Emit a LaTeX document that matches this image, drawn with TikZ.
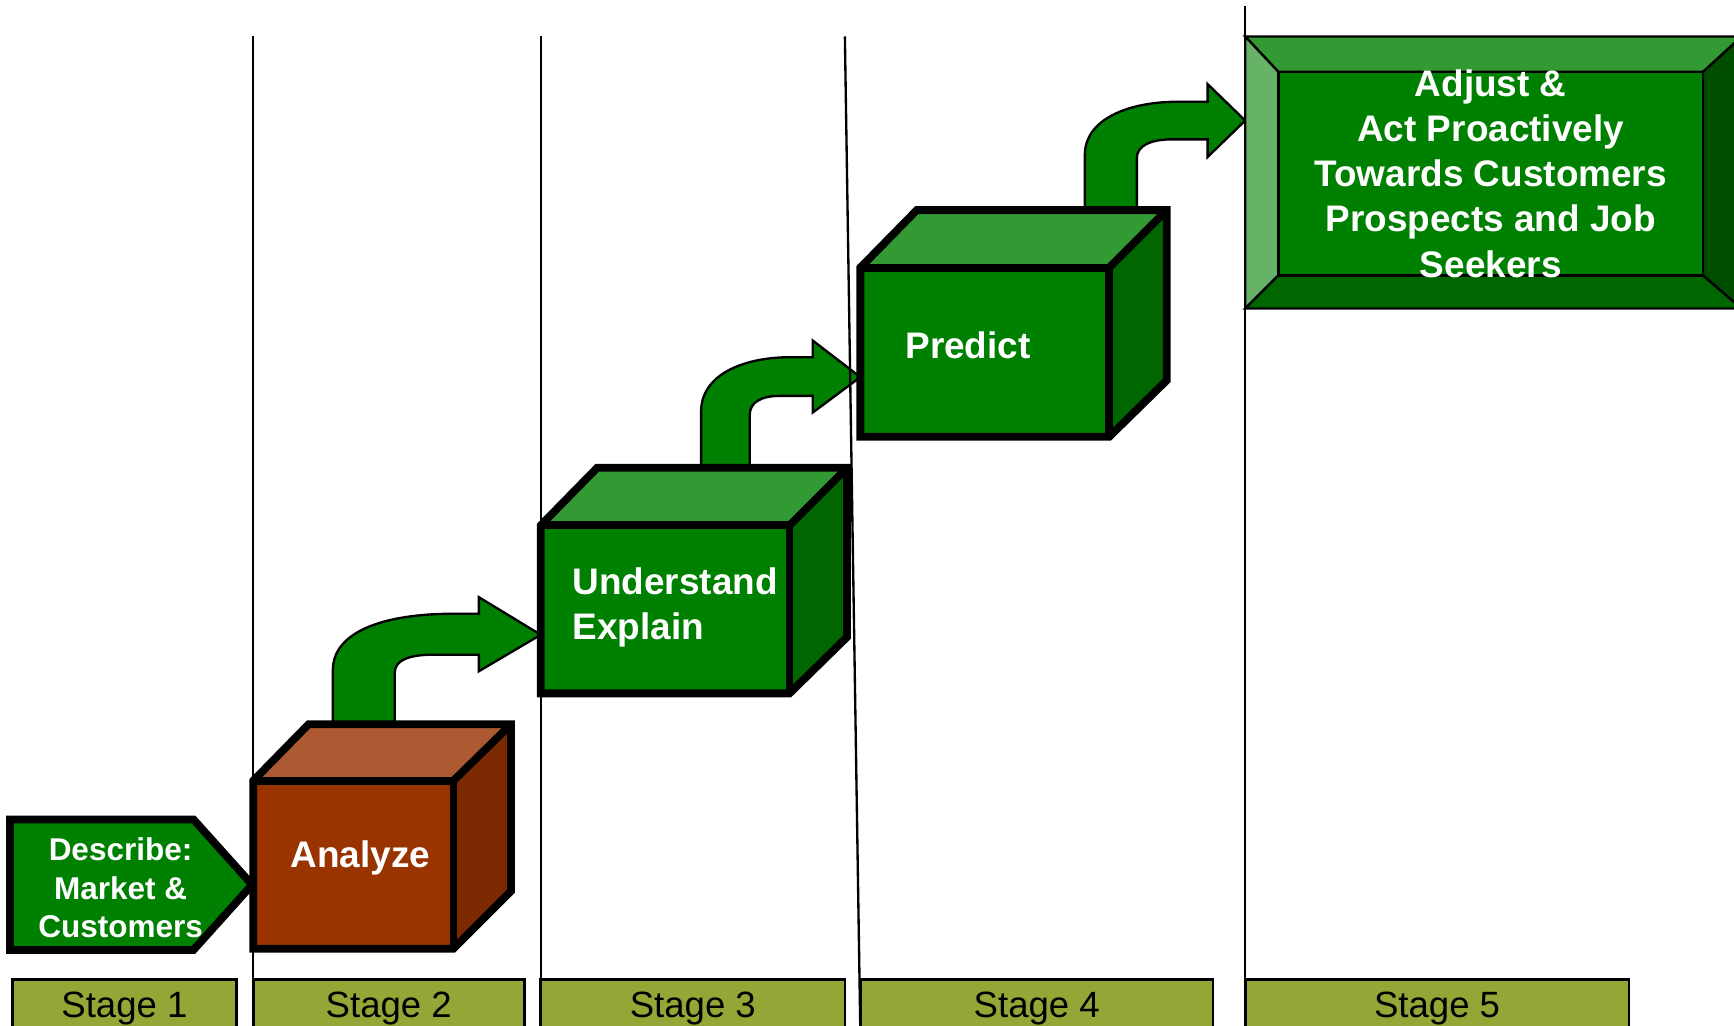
\documentclass[tikz,border=0pt]{standalone}
\usepackage{fontspec}
\setmainfont{Liberation Sans}

\definecolor{boxgreen}{HTML}{008000}
\definecolor{topgreen}{HTML}{339933}
\definecolor{sidegreen}{HTML}{006600}
\definecolor{lightbevel}{HTML}{66B266}
\definecolor{darkbevel}{HTML}{004D00}
\definecolor{boxbrown}{HTML}{993300}
\definecolor{topbrown}{HTML}{AD5A33}
\definecolor{sidebrown}{HTML}{7A2900}
\definecolor{stageolive}{HTML}{93A636}

\tikzset{
  cubeedge/.style={draw=black, line width=2pt, line join=miter},
  bendarrow/.style={draw=black, line width=0.6pt, fill=boxgreen},
  bevel/.style={draw=black, line width=0.6pt},
  stagebox/.style={draw=black, line width=0.7pt, fill=stageolive},
  divider/.style={black, line width=0.6pt},
  biglabel/.style={text=white, inner sep=0pt, font=\fontsize{9.5}{11.6}\selectfont\bfseries},
  smalllabel/.style={text=white, inner sep=0pt, font=\fontsize{8.1}{9.9}\selectfont\bfseries},
  stagelabel/.style={text=black, inner sep=0pt, font=\fontsize{9.4}{11}\selectfont}
}

\begin{document}
\begin{tikzpicture}[x=0.01cm, y=-0.01cm]

  \useasboundingbox (0,0) rectangle (1568,927);

  %% ---- Stage bar ----
  \foreach \i/\xl/\xr in {1/11/214, 2/229/474, 3/489/764, 4/778/1097, 5/1126/1473} {
    \filldraw[stagebox] (\xl,886) rectangle (\xr,935);
    \node[stagelabel] (stage\i) at ({(\xl+\xr)/2},912) {Stage \i};
  }

  %% ---- Bent arrows ----
  \filldraw[bendarrow] (301,655) -- (301,606)
    .. controls (301,572) and (345,555) .. (410,555) -- (433,555)
    -- (433,540) -- (489,574) -- (433,607) -- (433,592) -- (392,592)
    .. controls (370,592) and (357,597) .. (357,608) -- (357,655) -- cycle;

  \filldraw[bendarrow] (634,423) -- (634,372)
    .. controls (634,340) and (670,323) .. (715,323) -- (735,323)
    -- (735,308) -- (778,341) -- (735,373) -- (735,358) -- (705,358)
    .. controls (688,358) and (678,364) .. (678,375) -- (678,423) -- cycle;

  \filldraw[bendarrow] (981,190) -- (981,140)
    .. controls (981,108) and (1020,92) .. (1065,92) -- (1092,92)
    -- (1092,76) -- (1126,109) -- (1092,142) -- (1092,126) -- (1060,126)
    .. controls (1040,126) and (1028,132) .. (1028,143) -- (1028,190) -- cycle;

  %% ---- Stage 1: describe ----
  \filldraw[cubeedge, fill=boxgreen] (9,741) -- (175,741) -- (228,800)
    -- (175,859) -- (9,859) -- cycle;
  \node[smalllabel, align=center] (describe) at (109,803)
    {Describe:\\Market \&\\Customers};

  %% ---- Stage 2: analyze cube ----
  \fill[topbrown] (229,706) -- (279,655) -- (462,655) -- (410,706) -- cycle;
  \fill[sidebrown] (410,706) -- (462,655) -- (462,806) -- (410,858) -- cycle;
  \fill[boxbrown] (229,706) rectangle (410,858);
  \draw[cubeedge] (229,858) -- (229,706) -- (279,655) -- (462,655) -- (462,806) -- (410,858) -- cycle;
  \draw[cubeedge] (229,706) -- (410,706) -- (410,858);
  \draw[cubeedge] (410,706) -- (462,655);
  \node[biglabel] (analyze) at (326,776) {Analyze};

  %% ---- Stage 3: understand cube ----
  \fill[topgreen] (489,475) -- (540,423) -- (766,423) -- (714,475) -- cycle;
  \fill[sidegreen] (714,475) -- (766,423) -- (766,576) -- (714,627) -- cycle;
  \fill[boxgreen] (489,475) rectangle (714,627);
  \draw[cubeedge] (489,627) -- (489,475) -- (540,423) -- (766,423) -- (766,576) -- (714,627) -- cycle;
  \draw[cubeedge] (489,475) -- (714,475) -- (714,627);
  \draw[cubeedge] (714,475) -- (766,423);
  \node[biglabel, align=left, anchor=west] (understand) at (517,549)
    {Understand\\Explain};

  %% ---- Stage 4: predict cube ----
  \fill[topgreen] (778,242) -- (829,190) -- (1055,190) -- (1003,242) -- cycle;
  \fill[sidegreen] (1003,242) -- (1055,190) -- (1055,344) -- (1003,395) -- cycle;
  \fill[boxgreen] (778,242) rectangle (1003,395);
  \draw[cubeedge] (778,395) -- (778,242) -- (829,190) -- (1055,190) -- (1055,344) -- (1003,395) -- cycle;
  \draw[cubeedge] (778,242) -- (1003,242) -- (1003,395);
  \draw[cubeedge] (1003,242) -- (1055,190);
  \node[biglabel, anchor=west] (predict) at (818,312) {Predict};

  %% ---- Stage 5: bevelled box ----
  \filldraw[bevel, fill=topgreen]   (1126,33) -- (1575,33) -- (1540,65) -- (1156,65) -- cycle;
  \filldraw[bevel, fill=lightbevel] (1126,33) -- (1156,65) -- (1156,249) -- (1126,279) -- cycle;
  \filldraw[bevel, fill=sidegreen]  (1126,279) -- (1156,249) -- (1540,249) -- (1575,279) -- cycle;
  \filldraw[bevel, fill=darkbevel]  (1540,65) -- (1575,33) -- (1575,279) -- (1540,249) -- cycle;
  \filldraw[bevel, fill=boxgreen]   (1156,65) rectangle (1540,249);
  \node[biglabel, align=center] (adjust) at (1348,157)
    {Adjust \&\\Act Proactively\\Towards Customers\\Prospects and Job\\Seekers};

  %% ---- Dividers ----
  \draw[divider] (229,33) -- (229,935);
  \draw[divider] (489,33) -- (489,935);
  \draw[divider] (764,33) -- (778,935);
  \draw[divider] (1126,5) -- (1126,935);

\end{tikzpicture}
\end{document}
